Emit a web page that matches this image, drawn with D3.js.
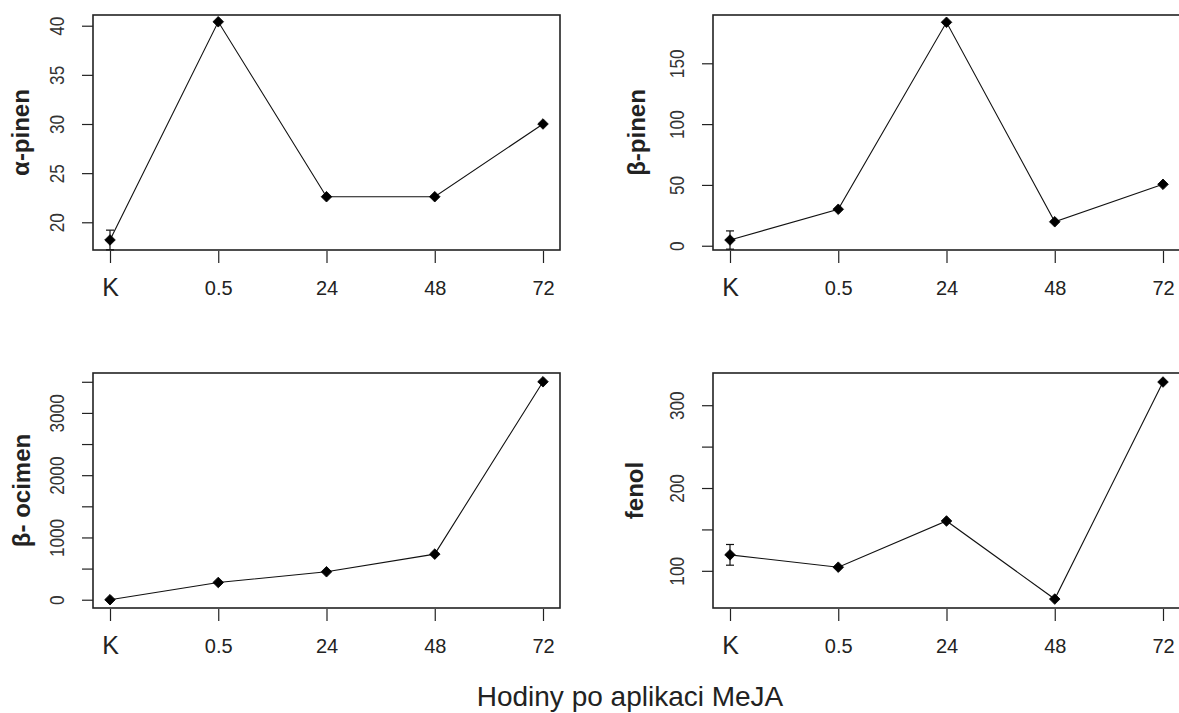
<!DOCTYPE html>
<html>
<head>
<meta charset="utf-8">
<script src="https://cdn.jsdelivr.net/npm/d3@7"></script>
<style>
  body { margin: 0; background: #fff; }
  text { font-family: "Liberation Sans", Arial, sans-serif; fill: #222; }
</style>
</head>
<body>
<div id="chart-area"></div>
<script>
// hours after MeJA application (K = control)
var hours = ['K', '0.5', '24', '48', '72'];

var aPinen = [18.2, 40.4, 22.6, 22.6, 30.0];
var aPinenErr = [1.0, 0, 0, 0, 0];
var aPinenTicks = [20, 25, 30, 35, 40];
var aPinenRange = [17.18, 41.09];

var bPinen = [4.7, 30, 183.7, 19.7, 50.5];
var bPinenErr = [7.5, 0, 0, 0, 0];
var bPinenTicks = [0, 50, 100, 150];
var bPinenRange = [-3.5, 189.7];

var bOcimen = [0, 277, 449, 732, 3500];
var bOcimenErr = [0, 0, 0, 0, 0];
var bOcimenTicks = [0, 500, 1000, 1500, 2000, 2500, 3000, 3500];
var bOcimenLabels = [0, 1000, 2000, 3000];
var bOcimenRange = [-133, 3641];

var fenol = [119.3, 104.4, 160.2, 65.9, 328];
var fenolErr = [12.5, 0, 0, 0, 0];
var fenolTicks = [100, 150, 200, 250, 300];
var fenolLabels = [100, 200, 300];
var fenolRange = [55.1, 338.9];

var W = 1179, H = 713;
var boxW = 467, boxH = 235;

var svg = d3.select('#chart-area')
  .append('svg')
    .attr('width', W)
    .attr('height', H);

var panels = [
  { name: 'α-pinen', values: aPinen, err: aPinenErr, ticks: aPinenTicks, labels: aPinenTicks, range: aPinenRange, x: 93, y: 15, titleX: -64 },
  { name: 'β-pinen', values: bPinen, err: bPinenErr, ticks: bPinenTicks, labels: bPinenTicks, range: bPinenRange, x: 713, y: 15, titleX: -68 },
  { name: 'β- ocimen', values: bOcimen, err: bOcimenErr, ticks: bOcimenTicks, labels: bOcimenLabels, range: bOcimenRange, x: 93, y: 373, titleX: -63 },
  { name: 'fenol', values: fenol, err: fenolErr, ticks: fenolTicks, labels: fenolLabels, range: fenolRange, x: 713, y: 373, titleX: -70 }
];

panels.forEach(function (p) {
  var g = svg.append('g')
    .attr('transform', 'translate(' + p.x + ', ' + p.y + ')');

  var xScale = d3.scalePoint()
    .domain(hours)
    .range([17, boxW - 17]);

  var yScale = d3.scaleLinear()
    .domain(p.range)
    .range([boxH, 0]);

  // y axis, ticks outward from the box
  var yAxisCall = d3.axisLeft(yScale)
    .tickValues(p.ticks)
    .tickSize(11)
    .tickSizeOuter(0)
    .tickFormat(function (d) { return p.labels.indexOf(d) >= 0 ? d : ''; });

  var yAxisGroup = g.append('g').call(yAxisCall);
  yAxisGroup.select('.domain').remove();
  yAxisGroup.selectAll('line').attr('stroke', '#222').attr('stroke-width', 1.2);
  // tick groups are already shifted to their y, so only rotate here
  yAxisGroup.selectAll('text')
    .attr('x', null).attr('dy', null)
    .attr('text-anchor', 'middle')
    .attr('font-size', '21px')
    .attr('transform', 'translate(-29, 0) rotate(-90) scale(0.82, 1)')
    .style('fill', '#333');

  // x axis
  var xAxisCall = d3.axisBottom(xScale)
    .tickSize(12)
    .tickSizeOuter(0);

  var xAxisGroup = g.append('g')
    .attr('transform', 'translate(0, ' + (boxH + 1) + ')')
    .call(xAxisCall);
  xAxisGroup.select('.domain').remove();
  xAxisGroup.selectAll('line').attr('stroke', '#222').attr('stroke-width', 1.2);
  xAxisGroup.selectAll('text')
    .attr('y', null).attr('dy', null)
    .attr('transform', function (d) { return 'translate(0, ' + (d === 'K' ? 45 : 44) + ')'; })
    .attr('font-size', function (d) { return d === 'K' ? '25px' : '20px'; })
    .style('fill', '#222');

  // box
  g.append('rect')
    .attr('x', 0)
    .attr('y', 0)
    .attr('width', boxW)
    .attr('height', boxH)
    .attr('fill', 'none')
    .attr('stroke', '#222')
    .attr('stroke-width', 1.6);

  // y axis title
  g.append('text')
    .attr('transform', 'translate(' + p.titleX + ', ' + (boxH / 2) + ') rotate(-90)')
    .attr('text-anchor', 'middle')
    .attr('font-weight', 'bold')
    .attr('font-size', '24px')
    .text(p.name);

  var pts = hours.map(function (h, i) {
    return { h: h, v: p.values[i], e: p.err[i] };
  });

  var line = d3.line()
    .x(function (d) { return xScale(d.h); })
    .y(function (d) { return yScale(d.v); });

  g.append('path')
    .datum(pts)
    .attr('d', line)
    .attr('fill', 'none')
    .attr('stroke', '#111')
    .attr('stroke-width', 1.1);

  // error bars
  var bars = g.selectAll('.err')
    .data(pts.filter(function (d) { return d.e > 0; }))
    .enter()
    .append('g')
      .attr('class', 'err')
      .attr('stroke', '#111')
      .attr('stroke-width', 1.2);

  bars.append('line')
    .attr('x1', function (d) { return xScale(d.h); })
    .attr('x2', function (d) { return xScale(d.h); })
    .attr('y1', function (d) { return yScale(d.v - d.e); })
    .attr('y2', function (d) { return yScale(d.v + d.e); });

  [-1, 1].forEach(function (s) {
    bars.append('line')
      .attr('x1', function (d) { return xScale(d.h) - 4; })
      .attr('x2', function (d) { return xScale(d.h) + 4; })
      .attr('y1', function (d) { return yScale(d.v + s * d.e); })
      .attr('y2', function (d) { return yScale(d.v + s * d.e); });
  });

  // diamond markers
  g.selectAll('.pt')
    .data(pts)
    .enter()
    .append('path')
      .attr('class', 'pt')
      .attr('d', d3.symbol().type(d3.symbolSquare).size(56))
      .attr('transform', function (d) {
        return 'translate(' + xScale(d.h) + ', ' + yScale(d.v) + ') rotate(45)';
      })
      .attr('fill', '#000')
      .attr('stroke', '#000')
      .attr('stroke-width', 0.8)
      .attr('stroke-linejoin', 'round');
});

svg.append('text')
  .attr('x', 630)
  .attr('y', 706)
  .attr('text-anchor', 'middle')
  .attr('font-size', '28px')
  .style('fill', '#222')
  .text('Hodiny po aplikaci MeJA');
</script>
</body>
</html>
